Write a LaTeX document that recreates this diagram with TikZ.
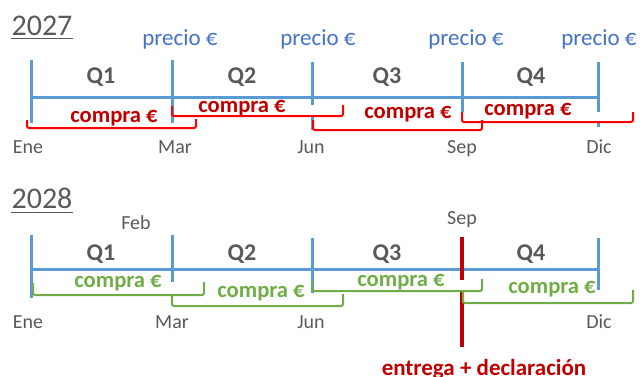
\documentclass[tikz,border=0pt]{standalone}
\usepackage{fontspec}
\setmainfont{Carlito}
\definecolor{lineblue}{HTML}{5B9BD5}
\definecolor{textblue}{HTML}{4472C4}
\definecolor{darkred}{HTML}{C00000}
\definecolor{brightred}{HTML}{FF0000}
\definecolor{leafgreen}{HTML}{70AD47}
\definecolor{textgray}{HTML}{595959}
\begin{document}
\begin{tikzpicture}[x=1pt, y=-1pt,
    axis/.style={lineblue, line width=3pt},
    redbrace/.style={brightred, line width=2pt, rounded corners=2pt},
    greenbrace/.style={leafgreen, line width=2pt, rounded corners=2pt},
    lbl/.style={inner sep=0pt, anchor=base, text=textgray},
    year/.style={lbl, font=\fontsize{30}{30}\selectfont},
    month/.style={lbl, font=\fontsize{20}{20}\selectfont},
    quarter/.style={lbl, font=\fontsize{24}{24}\selectfont\bfseries},
    price/.style={lbl, text=textblue, font=\fontsize{23}{23}\selectfont},
    buyred/.style={lbl, text=darkred, font=\fontsize{22.6}{22.6}\selectfont\bfseries},
    buygreen/.style={lbl, text=leafgreen, font=\fontsize{22.6}{22.6}\selectfont\bfseries}]
  \useasboundingbox (0,0) rectangle (643,376);

  % 2027
  \node[year] (y27) at (42,35) {2027};
  \draw[textgray, line width=1pt] (11,38) -- (73,38);
  \draw[axis] (31,97) -- (598,97);
  \draw[axis] (31,60) -- (31,123);
  \draw[axis] (172,60) -- (172,123);
  \draw[axis] (312,62) -- (312,105);
  \draw[axis] (312,117) -- (312,130);
  \draw[axis] (462,62) -- (462,112);
  \draw[axis] (598,62) -- (598,112);
  \draw[axis] (598,122) -- (598,127);
  \node[price] (p1) at (180,45) {precio €};
  \node[price] (p2) at (318,45) {precio €};
  \node[price] (p3) at (466,45) {precio €};
  \node[price] (p4) at (599,45) {precio €};
  \node[quarter] (q1a) at (101,83) {Q1};
  \node[quarter] (q2a) at (242,83) {Q2};
  \node[quarter] (q3a) at (387,83) {Q3};
  \node[quarter] (q4a) at (531,83) {Q4};
  \draw[redbrace] (27,120) -- (27,128) -- (196,128) -- (196,119);
  \draw[redbrace] (172,106) -- (172,116) -- (343,116) -- (343,105);
  \draw[redbrace] (313,120) -- (313,130) -- (482,130) -- (482,120);
  \draw[redbrace] (462,112) -- (462,122) -- (633,122) -- (633,112);
  \node[buyred] (c1a) at (114,122) {compra €};
  \node[buyred] (c2a) at (242,112) {compra €};
  \node[buyred] (c3a) at (408,118) {compra €};
  \node[buyred] (c4a) at (528,115) {compra €};
  \node[month] (m1a) at (28,153) {Ene};
  \node[month] (m2a) at (175,153) {Mar};
  \node[month] (m3a) at (311,153) {Jun};
  \node[month] (m4a) at (462,153) {Sep};
  \node[month] (m5a) at (599,153) {Dic};

  % 2028
  \node[year] (y28) at (42,208) {2028};
  \draw[textgray, line width=1pt] (11,212) -- (73,212);
  \draw[axis] (31,269) -- (598,269);
  \draw[axis] (31,235) -- (31,298);
  \draw[axis] (172,235) -- (172,282);
  \draw[axis] (312,238) -- (312,293);
  \draw[axis] (598,238) -- (598,290);
  \draw[darkred, line width=4pt] (462,237) -- (462,280);
  \draw[darkred, line width=4pt] (462,292) -- (462,347);
  \node[month] (feb) at (136,229) {Feb};
  \node[month] (sep) at (462,224) {Sep};
  \node[quarter] (q1b) at (101,260) {Q1};
  \node[quarter] (q2b) at (242,260) {Q2};
  \node[quarter] (q3b) at (387,260) {Q3};
  \node[quarter] (q4b) at (531,260) {Q4};
  \draw[greenbrace] (33,283) -- (33,295) -- (204,295) -- (204,282);
  \draw[greenbrace] (172,294) -- (172,306) -- (343,306) -- (343,294);
  \draw[greenbrace] (312,280) -- (312,291) -- (482,291) -- (482,279);
  \draw[greenbrace] (463,291) -- (463,303) -- (633,303) -- (633,290);
  \node[buygreen] (c1b) at (118,287) {compra €};
  \node[buygreen] (c2b) at (261,297) {compra €};
  \node[buygreen] (c3b) at (401,286) {compra €};
  \node[buygreen] (c4b) at (552,293) {compra €};
  \node[month] (m1b) at (28,328) {Ene};
  \node[month] (m2b) at (172,328) {Mar};
  \node[month] (m3b) at (311,328) {Jun};
  \node[month] (m5b) at (599,328) {Dic};
  \node[lbl, text=darkred, font=\fontsize{23}{23}\selectfont\bfseries] (deliv) at (484,375) {entrega + declaración};
\end{tikzpicture}
\end{document}
